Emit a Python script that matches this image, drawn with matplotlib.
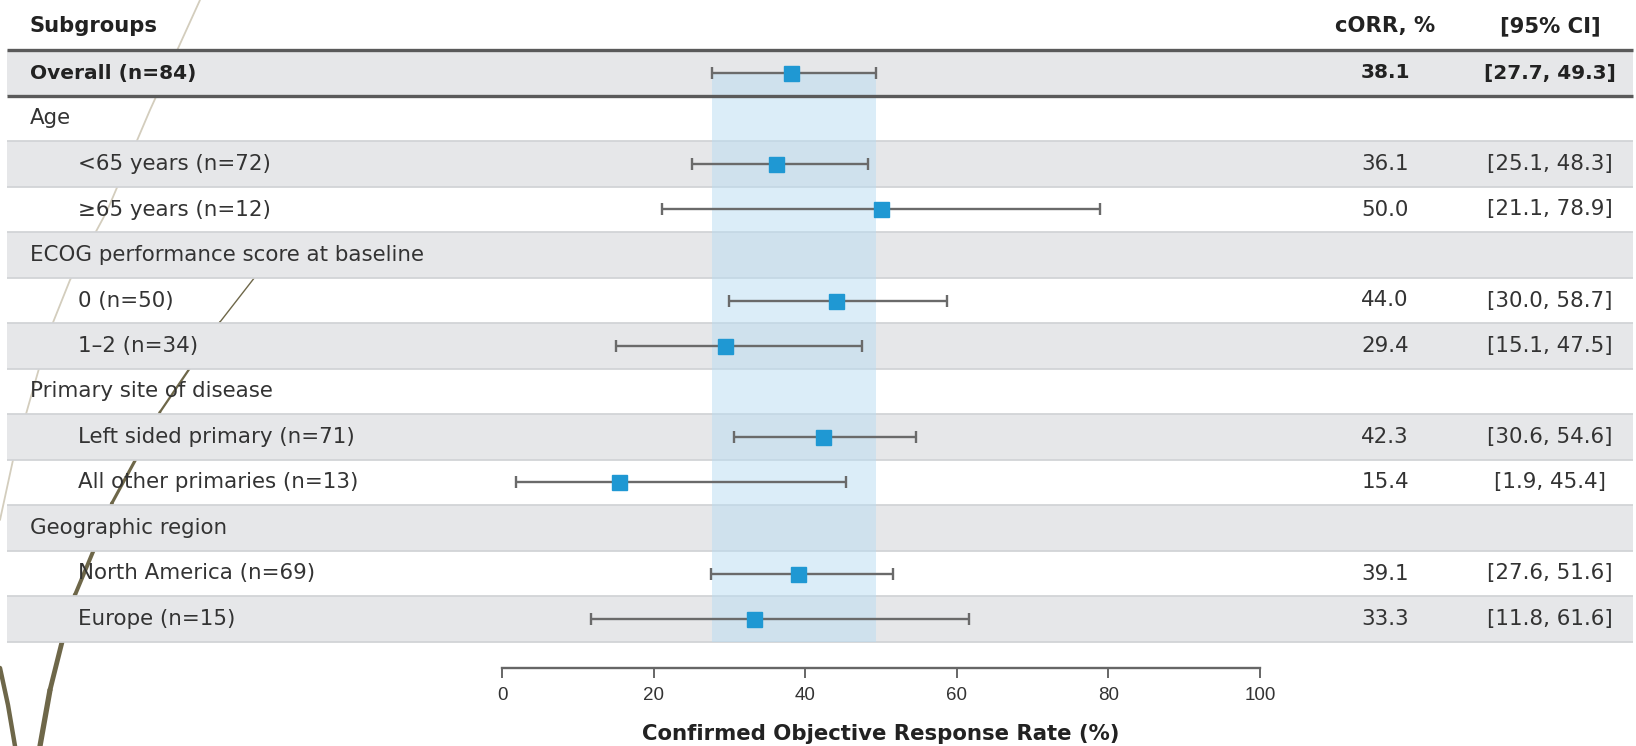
import matplotlib
matplotlib.use("Agg")
import matplotlib.pyplot as plt
from matplotlib.patches import Rectangle
from matplotlib.lines import Line2D

# ---------------- data ----------------
row_labels = ["Overall (n=84)", "Age", "<65 years (n=72)", "\u226565 years (n=12)",
              "ECOG performance score at baseline", "0 (n=50)", "1\u20132 (n=34)",
              "Primary site of disease", "Left sided primary (n=71)",
              "All other primaries (n=13)", "Geographic region",
              "North America (n=69)", "Europe (n=15)"]
row_indent = [0, 0, 1, 1, 0, 1, 1, 0, 1, 1, 0, 1, 1]
orr = [38.1, None, 36.1, 50.0, None, 44.0, 29.4, None, 42.3, 15.4, None, 39.1, 33.3]
ci_low = [27.7, None, 25.1, 21.1, None, 30.0, 15.1, None, 30.6, 1.9, None, 27.6, 11.8]
ci_high = [49.3, None, 48.3, 78.9, None, 58.7, 47.5, None, 54.6, 45.4, None, 51.6, 61.6]
x_ticks = [0, 20, 40, 60, 80, 100]
header_sub = "Subgroups"
header_orr = "cORR, %"
header_ci = "[95% CI]"
x_label = "Confirmed Objective Response Rate (%)"

# ---------------- layout ----------------
W, H = 1636, 746
fig = plt.figure(figsize=(W / 100, H / 100), dpi=100)
fig.patch.set_facecolor("white")

def fx(px):
    return px / W
def fy(py):
    return 1 - py / H

# decorative background lines (slide art)
deco = [
    ([(200, 0), (150, 110), (107, 211), (70, 280), (50, 330), (30, 400), (13, 460), (0, 520)], "#d3cdbd", 1.3),
    ([(0, 668), (8, 705), (15, 746)], "#6e6749", 3.2),
]
for pts, col, lw in deco:
    fig.add_artist(Line2D([fx(p[0]) for p in pts], [fy(p[1]) for p in pts],
                          color=col, lw=lw, zorder=-5, solid_capstyle="round"))
olive = [(262, 268), (220, 322), (192, 365), (160, 412), (137, 457), (112, 503),
         (95, 547), (75, 595), (63, 638), (50, 690), (40, 746)]
for k in range(len(olive) - 1):
    (x0, y0), (x1, y1) = olive[k], olive[k + 1]
    fig.add_artist(Line2D([fx(x0), fx(x1)], [fy(y0), fy(y1)], color="#6e6749",
                          lw=1.0 + 2.8 * k / (len(olive) - 2), zorder=-5,
                          solid_capstyle="round"))

ax = fig.add_axes([0, 0, 1, 1])
ax.patch.set_alpha(0)

x0px, ppu = 502.0, 7.58          # pixel of x=0, pixels per unit
row0, rowh = 73.0, 45.5          # pixel centre of first row, row height
ax.set_xlim(-x0px / ppu, (W - x0px) / ppu)
ax.set_ylim((H - row0) / rowh, -row0 / rowh)

n = len(row_labels)
tab_l, tab_r = 7 / W, 1633 / W

# row backgrounds
gray = "#e6e7e9"
for i in range(n):
    if i % 2 == 0:
        ax.axhspan(i - 0.5, i + 0.5, xmin=tab_l, xmax=tab_r, color=gray, lw=0, zorder=0)
for i in range(1, n):
    ax.plot([-65.3, 149.2], [i + 0.5, i + 0.5], color="#d2d4d7", lw=1.3, zorder=1,
            solid_capstyle="butt")
for yy in (-0.5, 0.5):
    ax.plot([-65.3, 149.2], [yy, yy], color="#5a5a5a", lw=2.4, zorder=3,
            solid_capstyle="butt")

# reference band = overall CI
ax.add_patch(Rectangle((ci_low[0], 0), ci_high[0] - ci_low[0], n - 0.5,
                       facecolor="#b9dcf2", alpha=0.5, lw=0, zorder=1.5))

# error bars and points
for i in range(n):
    if orr[i] is None:
        continue
    ax.errorbar([orr[i]], [i], xerr=[[orr[i] - ci_low[i]], [ci_high[i] - orr[i]]],
                fmt="none", ecolor="#6a6a6a", elinewidth=1.7, capsize=4.3,
                capthick=1.7, zorder=4)
    ax.plot([orr[i]], [i], marker="s", ms=10.8, color="#1f98d3", mec="#1f98d3",
            ls="none", zorder=5)

# texts
body_font = "DejaVu Sans"
txt_col = "#333333"
x_cat = (30 - x0px) / ppu
x_ind = (78 - x0px) / ppu
x_orr = (1385 - x0px) / ppu
x_ci = (1550 - x0px) / ppu
hy = (26 - row0) / rowh
for xx, s, ha in ((x_cat, header_sub, "left"), (x_orr, header_orr, "center"),
                  (x_ci, header_ci, "center")):
    ax.text(xx, hy, s, fontsize=15.2, fontweight="bold", family=body_font,
            color="#222222", ha=ha, va="center")
for i in range(n):
    bold = (i == 0)
    xx = x_ind if row_indent[i] else x_cat
    kw = dict(family=body_font, va="center", zorder=6,
              fontweight="bold" if bold else "normal",
              fontsize=14.5 if bold else 15.4,
              color="#222222" if bold else txt_col)
    ax.text(xx, i, row_labels[i], ha="left", **kw)
    if orr[i] is not None:
        ax.text(x_orr, i, f"{orr[i]:.1f}", ha="center", **kw)
        ax.text(x_ci, i, f"[{ci_low[i]:.1f}, {ci_high[i]:.1f}]", ha="center", **kw)

# x axis
for s in ("top", "right", "left"):
    ax.spines[s].set_visible(False)
ax.spines["bottom"].set_position(("data", (668 - row0) / rowh))
ax.spines["bottom"].set_bounds(0, 100)
ax.spines["bottom"].set_color("#666666")
ax.spines["bottom"].set_linewidth(1.7)
ax.set_yticks([])
ax.set_xticks(x_ticks)
ax.set_xticklabels([str(t) for t in x_ticks])
ax.tick_params(axis="x", direction="out", length=7, width=1.4, color="#666666",
               labelsize=13.5, labelcolor="#333333", pad=7)
for lab in ax.get_xticklabels():
    lab.set_family(["Liberation Sans", "DejaVu Sans"])
ax.text(50, (734 - row0) / rowh, x_label, ha="center", va="center",
        fontsize=15.3, fontweight="bold", family=body_font, color="#222222")

fig.savefig("out.png", dpi=100, facecolor="white")
